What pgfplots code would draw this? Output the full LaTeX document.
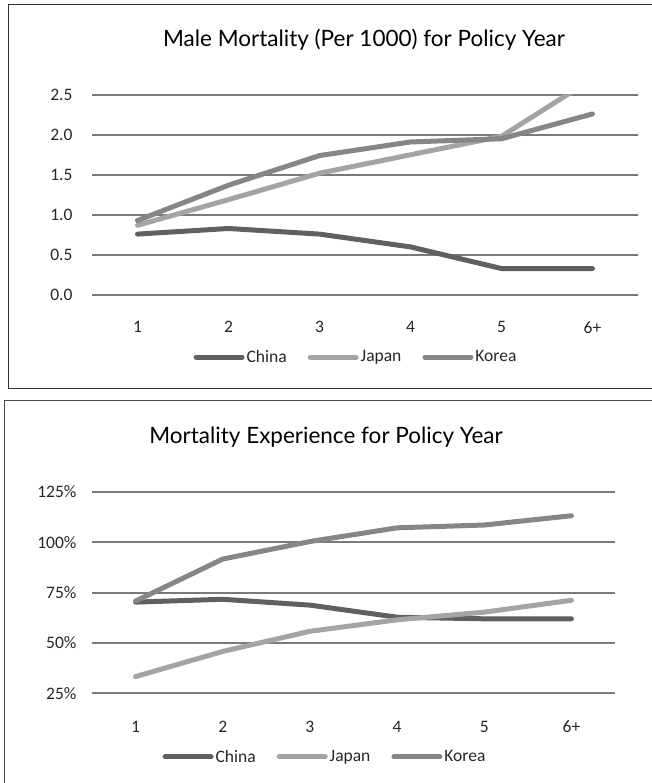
\documentclass[border=0pt]{standalone}
\usepackage{fontspec}
\setmainfont{Carlito}
\newfontfamily\titlefont{Lato}
\usepackage{pgfplots}
\pgfplotsset{compat=1.18}

\definecolor{chinac}{HTML}{606060}
\definecolor{japanc}{HTML}{A4A4A4}
\definecolor{koreac}{HTML}{868686}
\definecolor{gridc}{HTML}{7A7A7A}

\pgfplotsset{mortstyle/.style={
  scale only axis, anchor=south west,
  xmin=0.5, xmax=6.5,
  xtick={1,2,3,4,5,6}, xticklabels={1,2,3,4,5,6+},
  axis line style={draw=none}, major tick length=0pt,
  ymajorgrids, grid style={gridc, line width=2pt},
  tick label style={font=\fontsize{17.5}{20}\selectfont, text=black!85},
  /pgf/number format/assume math mode=true,
  legend columns=3,
  legend cell align=left,
  legend style={draw=none, fill=none, anchor=center,
    font=\fontsize{17.5}{20}\selectfont, text=black!85,
    nodes={inner sep=2pt},
    /tikz/every even column/.append style={column sep=19pt}},
  legend image code/.code={\draw[##1, line width=5pt, line cap=round] (0pt,0pt) -- (46pt,0pt);},
  every axis plot/.append style={line width=5pt, line cap=round, line join=round, mark=none},
}}

\begin{document}
\begin{tikzpicture}
\useasboundingbox (0pt,0pt) rectangle (652pt,783pt);

% frames
\draw[line width=1pt, black!80] (652pt,778pt) -- (8pt,778pt) -- (8pt,394pt) -- (652pt,394pt);
\draw[line width=1pt, black!70] (652pt,382pt) -- (4.5pt,382pt) -- (4.5pt,0pt);

% titles
\node[font=\titlefont\fontsize{22.5}{26}\selectfont] at (364pt,743pt) {Male Mortality (Per 1000) for Policy Year};
\node[font=\titlefont\fontsize{22.5}{26}\selectfont] at (326pt,346pt) {Mortality Experience for Policy Year};

\begin{axis}[mortstyle,
    at={(92pt,488pt)}, width=546pt, height=200.3pt,
    ymin=0, ymax=2.5,
    ytick={0,0.5,1,1.5,2,2.5},
    yticklabel style={xshift=-16pt, /pgf/number format/.cd, fixed, fixed zerofill, precision=1},
    xticklabel style={yshift=-23pt},
    legend style={at={(0.4835,-0.31)}},
]
\addplot[chinac] coordinates {(1,0.76) (2,0.83) (3,0.76) (4,0.60) (5,0.33) (6,0.33)};
\addplot[japanc] coordinates {(1,0.87) (2,1.19) (3,1.52) (4,1.75) (5,1.98) (6,2.70)};
\addplot[koreac] coordinates {(1,0.93) (2,1.37) (3,1.74) (4,1.91) (5,1.95) (6,2.26)};
\legend{China, Japan, Korea}
\end{axis}

\begin{axis}[mortstyle,
    at={(92pt,89.7pt)}, width=523pt, height=201.3pt,
    ymin=25, ymax=125,
    ytick={25,50,75,100,125},
    yticklabels={25\%,50\%,75\%,100\%,125\%},
    yticklabel style={xshift=-12pt},
    xticklabel style={yshift=-24pt},
    legend style={at={(0.4455,-0.316)}},
]
\addplot[chinac] coordinates {(1,70.3) (2,71.7) (3,68.8) (4,62.8) (5,62.0) (6,62.0)};
\addplot[japanc] coordinates {(1,33.3) (2,45.8) (3,55.8) (4,61.5) (5,65.3) (6,71.2)};
\addplot[koreac] coordinates {(1,70.8) (2,91.7) (3,100.4) (4,107.2) (5,108.6) (6,113.2)};
\legend{China, Japan, Korea}
\end{axis}
\end{tikzpicture}
\end{document}
